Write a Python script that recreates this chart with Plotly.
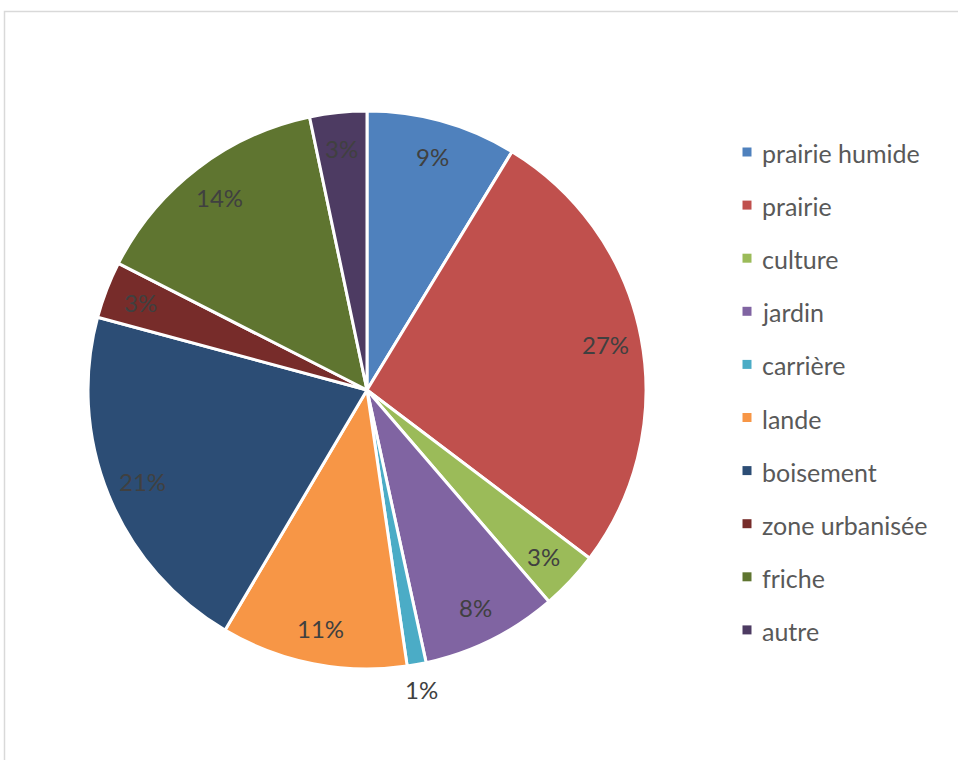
import math
import plotly.graph_objects as go

# Occupation du sol (%)
labels = ["prairie humide", "prairie", "culture", "jardin", "carrière",
          "lande", "boisement", "zone urbanisée", "friche", "autre"]
values = [8.7, 26.6, 3.4, 7.9, 1.1, 10.8, 20.7, 3.3, 14.2, 3.3]
colors = ["#4F81BD", "#C0504D", "#9BBB59", "#8064A2", "#4BACC6",
          "#F79646", "#2C4D75", "#772C2A", "#5F7530", "#4D3B62"]

W, H = 958, 760
CX, CY, R = 367, 390, 279  # pie centre / radius in pixels
FONT = "Lato, Carlito, sans-serif"

fig = go.Figure(go.Pie(
    labels=labels,
    values=values,
    sort=False,
    direction="clockwise",
    rotation=0,
    marker=dict(colors=colors, line=dict(color="white", width=3)),
    textinfo="none",
    hoverinfo="label+percent",
    showlegend=False,
    domain=dict(x=[(CX - R) / W, (CX + R) / W],
                y=[1 - (CY + R) / H, 1 - (CY - R) / H]),
))

annotations = []
shapes = []

# percentage labels placed along each slice's mid angle
total = sum(values)
cum = 0
for lab, v in zip(labels, values):
    mid = (cum + v / 2) / total
    cum += v
    ang = math.radians(90 - 360 * mid)
    pct = round(100 * v / total)
    rf = 1.09 if pct <= 1 else 0.87
    px = CX + rf * R * math.cos(ang)
    py = CY - rf * R * math.sin(ang)
    annotations.append(dict(
        x=px / W, y=1 - py / H, xref="paper", yref="paper",
        text=f"{pct}%", showarrow=False,
        font=dict(family=FONT, size=24, color="#404040"),
        xanchor="center", yanchor="middle",
    ))

# legend on the right
LX, LY0, DY = 747, 152, 53.1
for i, (lab, col) in enumerate(zip(labels, colors)):
    y = LY0 + i * DY
    shapes.append(dict(
        type="rect", xref="paper", yref="paper",
        x0=(LX - 4.5) / W, x1=(LX + 4.5) / W,
        y0=1 - (y + 4.5) / H, y1=1 - (y - 4.5) / H,
        fillcolor=col, line=dict(width=0),
    ))
    annotations.append(dict(
        x=(LX + 13) / W, y=1 - (y + 1) / H, xref="paper", yref="paper",
        text=lab, showarrow=False,
        font=dict(family=FONT, size=25, color="#595959"),
        xanchor="left", yanchor="middle",
    ))

# chart area frame
shapes.append(dict(
    type="rect", xref="paper", yref="paper",
    x0=4.5 / W, x1=1.05, y0=-0.05, y1=1 - 11.5 / H,
    line=dict(color="#D9D9D9", width=1.5), fillcolor="rgba(0,0,0,0)",
    layer="below",
))

fig.update_layout(
    width=W, height=H,
    margin=dict(l=0, r=0, t=0, b=0),
    paper_bgcolor="white",
    plot_bgcolor="white",
    annotations=annotations,
    shapes=shapes,
)

fig.write_html("out.html", config={"displayModeBar": False})
